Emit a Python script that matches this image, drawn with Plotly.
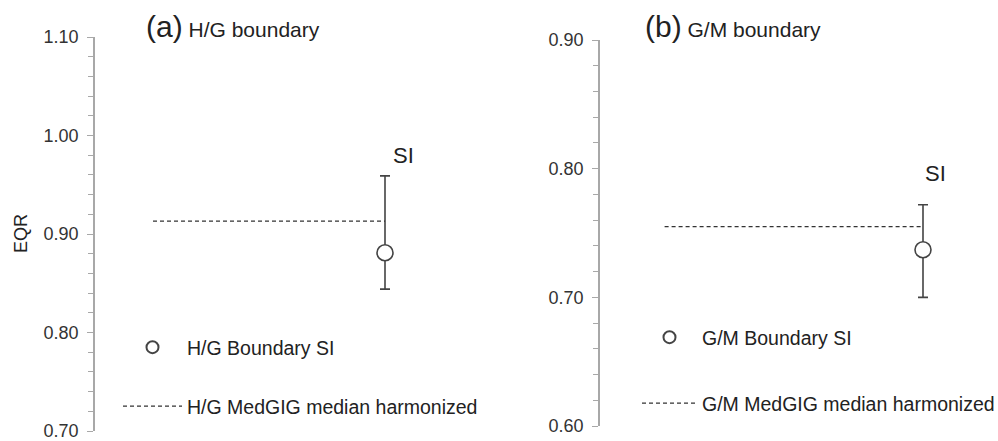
import plotly.graph_objects as go

# ---- data ----
panels = ["(a)", "(b)"]
panel_titles = ["H/G boundary", "G/M boundary"]
si_labels = ["SI", "SI"]

hg_si = [0.881]
hg_upper = [0.959]
hg_lower = [0.844]
hg_median = [0.913, 0.913]

gm_si = [0.737]
gm_upper = [0.772]
gm_lower = [0.700]
gm_median = [0.755, 0.755]

si_x = [1.0]
median_x = [0.2, 1.0]

hg_ticks = [0.70, 0.80, 0.90, 1.00, 1.10]
gm_ticks = [0.60, 0.70, 0.80, 0.90]

FONT = "Liberation Sans, Arial, Helvetica, sans-serif"
TXT = "#222222"
AX = "#a8a8a8"
MK = "#444444"

fig = go.Figure()

def add_panel(xa, ya, si, up, lo, med, name_pt, name_ln, leg_pt, leg_ln):
    fig.add_trace(go.Scatter(
        x=si_x, y=si, mode="markers", name=name_pt,
        xaxis=xa, yaxis=ya, legend=leg_pt,
        marker=dict(size=16, color="white", line=dict(color=MK, width=1.6)),
        error_y=dict(type="data", symmetric=False,
                     array=[u - v for u, v in zip(up, si)],
                     arrayminus=[v - l for v, l in zip(si, lo)],
                     color=MK, thickness=1.6, width=5),
        hoverinfo="skip"))
    fig.add_trace(go.Scatter(
        x=median_x, y=med, mode="lines", name=name_ln,
        xaxis=xa, yaxis=ya, legend=leg_ln,
        line=dict(color="#333333", width=1.2, dash="4px,3px"),
        hoverinfo="skip"))

add_panel("x", "y", hg_si, hg_upper, hg_lower, hg_median,
          "H/G Boundary SI", "H/G MedGIG median harmonized", "legend", "legend2")
add_panel("x2", "y2", gm_si, gm_upper, gm_lower, gm_median,
          "G/M Boundary SI", "G/M MedGIG median harmonized", "legend3", "legend4")

W, H = 998, 441

def yax(domain, rng, ticks, anchor):
    return dict(domain=domain, range=rng, tickvals=ticks, tickformat=".2f",
                anchor=anchor, ticklabeloverflow="allow", ticklabelstandoff=5,
                showline=True, linecolor=AX, linewidth=1.5,
                ticks="outside", ticklen=6, tickcolor=AX, tickwidth=1.2,
                minor=dict(dtick=0.02, tick0=rng[0], ticks="outside", ticklen=5,
                           tickcolor=AX, tickwidth=1.2, showgrid=False),
                showgrid=False, zeroline=False,
                tickfont=dict(family=FONT, size=18, color="#333333"))

def legend_cfg(xpx, ypx, iw, sizing):
    return dict(x=xpx / W, y=1 - ypx / H,
                font=dict(family=FONT, size=19.5, color=TXT),
                bgcolor="rgba(0,0,0,0)", itemsizing=sizing,
                itemwidth=iw, xanchor="left", yanchor="top")

fig.update_layout(
    width=W, height=H,
    margin=dict(l=0, r=0, t=0, b=0, autoexpand=False),
    paper_bgcolor="white", plot_bgcolor="white",
    showlegend=True,
    font=dict(family=FONT, color=TXT),
    xaxis=dict(domain=[95 / W, 485 / W], range=[0, 390 / 290], visible=False, anchor="y"),
    yaxis=yax([1 - 431 / H, 1 - 37 / H], [0.70, 1.10], hg_ticks, "x"),
    xaxis2=dict(domain=[600 / W, 1.0], range=[0, 398 / 323], visible=False, anchor="y2"),
    yaxis2=yax([1 - 426 / H, 1 - 40 / H], [0.60, 0.90], gm_ticks, "x2"),
    legend=legend_cfg(118, 328, 59, "constant"),
    legend2=legend_cfg(118, 387, 59, "trace"),
    legend3=legend_cfg(637, 318, 55, "constant"),
    legend4=legend_cfg(637, 384, 55, "trace"),
)

# panel titles
for xpx, lab, tit in [(144, panels[0], panel_titles[0]), (643, panels[1], panel_titles[1])]:
    fig.add_annotation(xref="paper", yref="paper", x=xpx / W, y=1 - 27 / H,
                       xanchor="left", yanchor="middle", showarrow=False,
                       text=f"<span style='font-size:30px'>{lab}</span> {tit}",
                       font=dict(family=FONT, size=21, color=TXT))

# SI labels above error bars
fig.add_annotation(xref="x", yref="y", x=si_x[0], y=hg_upper[0], text=si_labels[0],
                   showarrow=False, xshift=18, yshift=20, yanchor="middle",
                   font=dict(family=FONT, size=22, color=TXT))
fig.add_annotation(xref="x2", yref="y2", x=si_x[0], y=gm_upper[0], text=si_labels[1],
                   showarrow=False, xshift=12, yshift=31, yanchor="middle",
                   font=dict(family=FONT, size=22, color=TXT))

# y axis title
fig.add_annotation(xref="paper", yref="paper", x=21 / W, y=1 - 234 / H, text="EQR",
                   textangle=-90, showarrow=False, xanchor="center", yanchor="middle",
                   font=dict(family=FONT, size=18, color=TXT))

fig.write_html("out.html", config={"displayModeBar": False},
               post_script="document.body.style.margin='0';document.body.style.overflow='hidden';")
